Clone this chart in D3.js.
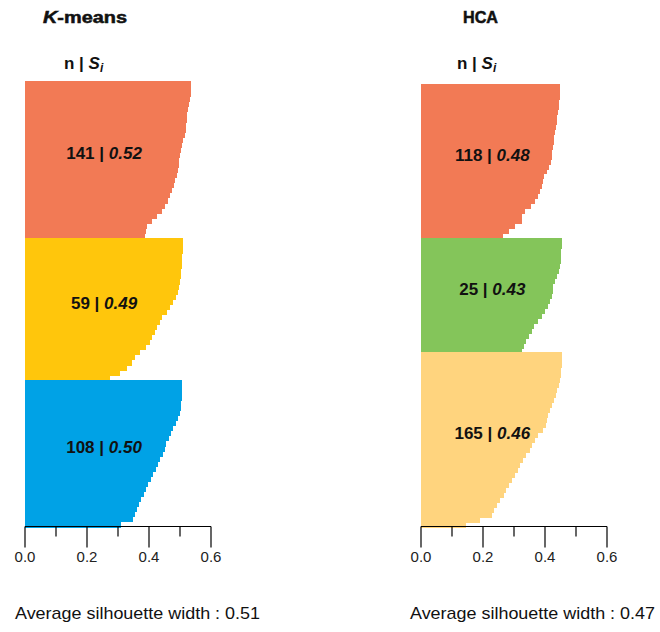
<!DOCTYPE html>
<html>
<head>
<meta charset="utf-8">
<script src="https://cdn.jsdelivr.net/npm/d3@7/dist/d3.min.js"></script>
<style>
  html, body { margin: 0; padding: 0; background: #fff; }
  svg { display: block; font-family: "Liberation Sans", Arial, sans-serif; }
</style>
</head>
<body>
<svg id="chart" width="660" height="632"></svg>
<script>
// ---------- DATA ----------
const xTicks = [0, 0.1, 0.2, 0.3, 0.4, 0.5, 0.6];
const xTickLabels = ["0.0", "0.2", "0.4", "0.6"];

// K-means
const kmTitle = "K-means";
const kmN = [141, 59, 108];
const kmSi = ["0.52", "0.49", "0.50"];
const kmAvg = "0.51";
const kmWidthsC1 = [0.534,0.534,0.534,0.531,0.529,0.526,0.524,0.521,0.519,0.518,0.516,0.511,0.505,0.503,0.500,0.498,0.496,0.493,0.489,0.485,0.481,0.474,0.468,0.461,0.452,0.442,0.426,0.410,0.394,0.389,0.387];
const kmWidthsC2 = [0.509,0.509,0.509,0.508,0.507,0.506,0.504,0.502,0.499,0.496,0.493,0.486,0.478,0.469,0.457,0.442,0.434,0.427,0.419,0.411,0.402,0.389,0.371,0.356,0.346,0.329,0.306,0.274];
const kmWidthsC3 = [0.505,0.505,0.505,0.505,0.504,0.503,0.500,0.495,0.488,0.479,0.470,0.463,0.456,0.451,0.444,0.437,0.429,0.421,0.413,0.405,0.398,0.391,0.383,0.375,0.368,0.361,0.354,0.347,0.310];

// HCA
const hcaTitle = "HCA";
const hcaN = [118, 25, 165];
const hcaSi = ["0.48", "0.43", "0.46"];
const hcaAvg = "0.47";
const hcaWidthsC1 = [0.448,0.448,0.447,0.445,0.444,0.442,0.440,0.438,0.435,0.432,0.430,0.428,0.426,0.424,0.423,0.419,0.413,0.406,0.398,0.394,0.390,0.384,0.376,0.368,0.355,0.335,0.327,0.325,0.303,0.284,0.265];
const hcaWidthsC2 = [0.454,0.454,0.453,0.452,0.450,0.448,0.445,0.440,0.432,0.426,0.425,0.421,0.416,0.410,0.401,0.389,0.377,0.366,0.358,0.348,0.338,0.331,0.325];
const hcaWidthsC3 = [0.454,0.454,0.454,0.452,0.450,0.448,0.444,0.439,0.435,0.429,0.423,0.417,0.411,0.406,0.402,0.392,0.379,0.368,0.359,0.351,0.340,0.330,0.320,0.312,0.302,0.293,0.285,0.275,0.268,0.256,0.244,0.237,0.229,0.190,0.145];

// ---------- STYLE / LAYOUT ----------
const kmColors = ["#F27A55", "#FFC60C", "#00A2E6"];
const hcaColors = ["#F27A55", "#84C55A", "#FFD47E"];

const panels = [
  { title: kmTitle, italicK: true, n: kmN, si: kmSi, avg: kmAvg,
    widths: [kmWidthsC1, kmWidthsC2, kmWidthsC3], colors: kmColors,
    x0: 25, top: 81, titleX: 43, titleW: 84, headX: 64, labelAt: 0.255, avgX: 15 },
  { title: hcaTitle, italicK: false, n: hcaN, si: hcaSi, avg: hcaAvg,
    widths: [hcaWidthsC1, hcaWidthsC2, hcaWidthsC3], colors: hcaColors,
    x0: 421, top: 84, titleX: 463, titleW: 35, headX: 457, labelAt: 0.23, avgX: 410 }
];
const axisY = 526.5;
const plotW = 186;

const svg = d3.select("#chart");

panels.forEach(p => {
  const g = svg.append("g");
  const x = d3.scaleLinear().domain([0, 0.6]).range([p.x0, p.x0 + plotW]);

  const bars = [];
  p.widths.forEach((arr, c) => arr.forEach(v => bars.push({ c, v })));
  const y = d3.scaleBand().domain(d3.range(bars.length)).range([p.top, axisY]).padding(0);

  g.append("g").attr("shape-rendering", "crispEdges")
    .selectAll("rect").data(bars).join("rect")
    .attr("x", x(0))
    .attr("y", (d, i) => Math.round(y(i)))
    .attr("width", d => x(d.v) - x(0))
    .attr("height", (d, i) => (i === bars.length - 1 ? axisY - Math.round(y(i)) : Math.round(y(i + 1)) - Math.round(y(i))) + 1)
    .attr("fill", d => p.colors[d.c]);

  // redraw so upper rows overlap correctly (draw in reverse not needed: later rows cover extra pixel)
  let start = 0;
  p.widths.forEach((arr, c) => {
    const y0 = y(start), y1 = y(start + arr.length - 1) + y.bandwidth();
    start += arr.length;
    const t = g.append("text")
      .attr("x", x(p.labelAt))
      .attr("y", (y0 + y1) / 2 - 6)
      .attr("dy", "0.35em")
      .attr("text-anchor", "middle")
      .attr("font-size", 17)
      .attr("font-weight", "bold")
      .attr("fill", "#111");
    t.append("tspan").text(p.n[c] + " | ");
    t.append("tspan").attr("font-style", "italic").text(p.si[c]);
  });

  // axis
  const axis = g.append("g");
  axis.append("line")
    .attr("x1", x(0)).attr("x2", x(0.6))
    .attr("y1", axisY).attr("y2", axisY)
    .attr("stroke", "#000").attr("stroke-width", 1.2);
  axis.selectAll("line.tick").data(xTicks).join("line")
    .attr("class", "tick")
    .attr("x1", d => x(d)).attr("x2", d => x(d))
    .attr("y1", axisY)
    .attr("y2", (d, i) => axisY + (i % 2 === 0 ? 21 : 10))
    .attr("stroke", "#000").attr("stroke-width", 1.2);
  axis.selectAll("text.tl").data(xTickLabels).join("text")
    .attr("class", "tl")
    .attr("x", (d, i) => x(xTicks[i * 2]))
    .attr("y", 562)
    .attr("text-anchor", "middle")
    .attr("font-size", 15)
    .attr("fill", "#222")
    .text(d => d);

  // title
  const tt = g.append("text")
    .attr("x", p.titleX).attr("y", 23)
    .attr("font-size", 16).attr("font-weight", "bold").attr("fill", "#111")
    .attr("stroke", "#111").attr("stroke-width", 0.5)
    .attr("textLength", p.titleW).attr("lengthAdjust", "spacingAndGlyphs");
  if (p.italicK) {
    tt.append("tspan").attr("font-style", "italic").text(p.title[0]);
    tt.append("tspan").text(p.title.slice(1));
  } else {
    tt.text(p.title);
  }

  // header n | Si
  const h = g.append("text")
    .attr("x", p.headX).attr("y", 69)
    .attr("font-size", 17).attr("font-weight", "bold").attr("fill", "#111");
  h.append("tspan").text("n | ");
  h.append("tspan").attr("font-style", "italic").text("S");
  h.append("tspan").attr("font-style", "italic").attr("font-size", 12).attr("dy", 3).text("i");

  // average
  g.append("text")
    .attr("x", p.avgX).attr("y", 619)
    .attr("font-size", 17).attr("fill", "#111")
    .attr("textLength", 245).attr("lengthAdjust", "spacingAndGlyphs")
    .text("Average silhouette width : " + p.avg);
});
</script>
</body>
</html>
